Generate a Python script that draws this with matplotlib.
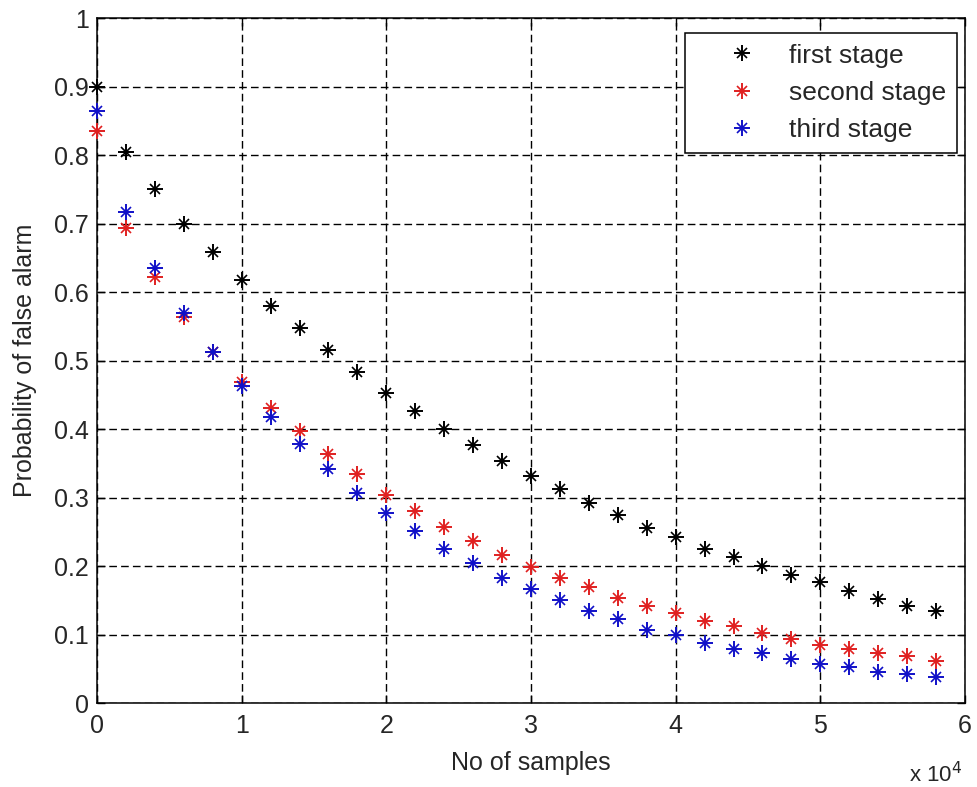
import matplotlib.pyplot as plt
from matplotlib.legend_handler import HandlerTuple
import numpy as np

# samples (in units of 1e4)
samples = [0.0, 0.2, 0.4, 0.6, 0.8, 1.0, 1.2, 1.4, 1.6, 1.8,
           2.0, 2.2, 2.4, 2.6, 2.8, 3.0, 3.2, 3.4, 3.6, 3.8,
           4.0, 4.2, 4.4, 4.6, 4.8, 5.0, 5.2, 5.4, 5.6, 5.8]

pfa_first = [0.900, 0.805, 0.750, 0.700, 0.659, 0.618, 0.580, 0.547, 0.515, 0.483,
             0.453, 0.426, 0.400, 0.376, 0.353, 0.332, 0.313, 0.292, 0.274, 0.256,
             0.243, 0.225, 0.213, 0.200, 0.187, 0.176, 0.164, 0.152, 0.142, 0.134]

pfa_second = [0.835, 0.693, 0.622, 0.564, 0.513, 0.469, 0.431, 0.397, 0.363, 0.334,
              0.304, 0.281, 0.257, 0.237, 0.216, 0.199, 0.183, 0.169, 0.154, 0.142,
              0.131, 0.120, 0.112, 0.102, 0.094, 0.084, 0.079, 0.073, 0.068, 0.061]

pfa_third = [0.864, 0.717, 0.635, 0.570, 0.513, 0.463, 0.418, 0.378, 0.341, 0.307,
             0.278, 0.251, 0.225, 0.205, 0.183, 0.167, 0.150, 0.134, 0.123, 0.107,
             0.099, 0.087, 0.079, 0.073, 0.064, 0.057, 0.052, 0.046, 0.042, 0.038]

labels = ['first stage', 'second stage', 'third stage']
colors = ['black', '#e02020', '#1010c8']

plt.rcParams['font.family'] = ['Liberation Sans', 'DejaVu Sans']
txt = '#262626'
fs = 18

fig = plt.figure(figsize=(9.78, 7.87), dpi=100)
ax = fig.add_axes([0.0992, 0.1067, 0.8875, 0.8703])

handles = []
for ys, c in zip([pfa_first, pfa_second, pfa_third], colors):
    # asterisk marker: a plus with a smaller cross on top
    h1, = ax.plot(samples, ys, linestyle='none', marker='+', ms=11, mew=1.4,
                  color=c, clip_on=False, zorder=3)
    h2, = ax.plot(samples, ys, linestyle='none', marker='x', ms=7, mew=1.2,
                  color=c, clip_on=False, zorder=3)
    handles.append((h1, h2))

ax.set_xlim(0, 6)
ax.set_ylim(0, 1)
ax.set_xticks(np.arange(0, 7, 1))
ax.set_yticks(np.arange(0, 1.01, 0.1))
ax.set_xticklabels(['0', '1', '2', '3', '4', '5', '6'])
ax.set_yticklabels(['0', '0.1', '0.2', '0.3', '0.4', '0.5', '0.6', '0.7', '0.8', '0.9', '1'])
ax.tick_params(direction='in', length=6, width=1, labelsize=fs, colors='black',
               labelcolor=txt, top=True, right=True)
ax.tick_params(axis='x', pad=8)
ax.tick_params(axis='y', pad=6)
ax.grid(True, color='black', linestyle=(0, (5.5, 3)), linewidth=1)
for s in ax.spines.values():
    s.set_linewidth(1.1)

ax.set_xlabel('No of samples', fontsize=fs, color=txt, labelpad=9)
ax.set_ylabel('Probability of false alarm', fontsize=fs, color=txt, labelpad=12)
fig.text(0.984, 0.0064, r'x 10$^{4}$', fontsize=16, color=txt, ha='right', va='baseline')

leg = ax.legend(handles, labels, handler_map={tuple: HandlerTuple(ndivide=1)},
                loc='upper right', bbox_to_anchor=(0.9908, 0.978), fontsize=19,
                fancybox=False, framealpha=1, edgecolor='black', borderpad=0.4,
                handlelength=3.5, handletextpad=0.05, labelspacing=0.5,
                borderaxespad=0)
leg.get_frame().set_linewidth(1.1)
for t in leg.get_texts():
    t.set_color(txt)

fig.savefig('out.png', dpi=100)
